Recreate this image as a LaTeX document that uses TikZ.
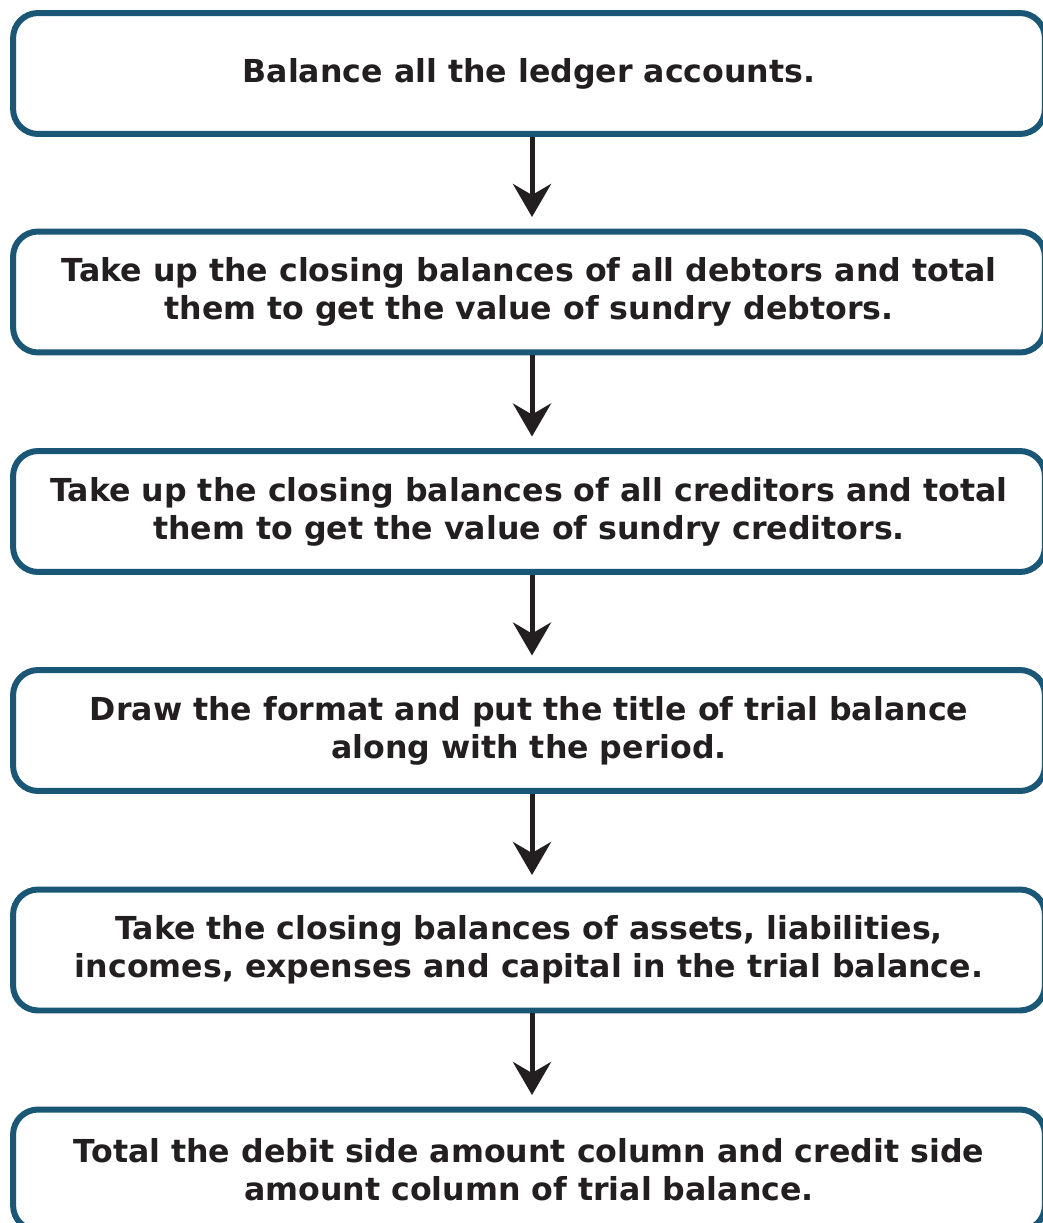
\documentclass[tikz,border=0pt]{standalone}
\usepackage{fontspec}
\setmainfont{DejaVu Sans}
\usetikzlibrary{arrows.meta}
\definecolor{frame}{RGB}{26, 86, 117}
\definecolor{ink}{RGB}{35, 31, 32}

\begin{document}
\begin{tikzpicture}[x=0.02cm, y=-0.02cm,
  stepbox/.style={draw=frame, line width=0.12cm, rounded corners=0.5cm,
    minimum width=20.64cm, minimum height=2.42cm, inner sep=0pt,
    align=center, text=ink, font=\fontsize{18}{21.6}\selectfont\bfseries},
  flow/.style={draw=ink, line width=0.1cm,
    -{Stealth[length=0.66cm, width=0.76cm, inset=0.22cm]}, shorten >=0.23cm}]
  \fill[white] (0, 0) rectangle (1043, 1223);
  \useasboundingbox (0, 0) rectangle (1043, 1223);

  \node[stepbox] (s1) at (529, 73.5) {Balance all the ledger accounts.};
  \node[stepbox] (s2) at (529, 292) {Take up the closing balances of all debtors and total\\them to get the value of sundry debtors.};
  \node[stepbox] (s3) at (529, 511.5) {Take up the closing balances of all creditors and total\\them to get the value of sundry creditors.};
  \node[stepbox] (s4) at (529, 730.5) {Draw the format and put the title of trial balance\\along with the period.};
  \node[stepbox] (s5) at (529, 950) {Take the closing balances of assets, liabilities,\\incomes, expenses and capital in the trial balance.};
  \node[stepbox] (s6) at (529, 1170) {Total the debit side amount column and credit side\\amount column of trial balance.};

  \foreach \a/\b in {s1/s2, s2/s3, s3/s4, s4/s5, s5/s6} {
    \draw[flow] ([xshift=0.06cm]\a.south) -- ([xshift=0.06cm]\b.north);
  }
\end{tikzpicture}
\end{document}
